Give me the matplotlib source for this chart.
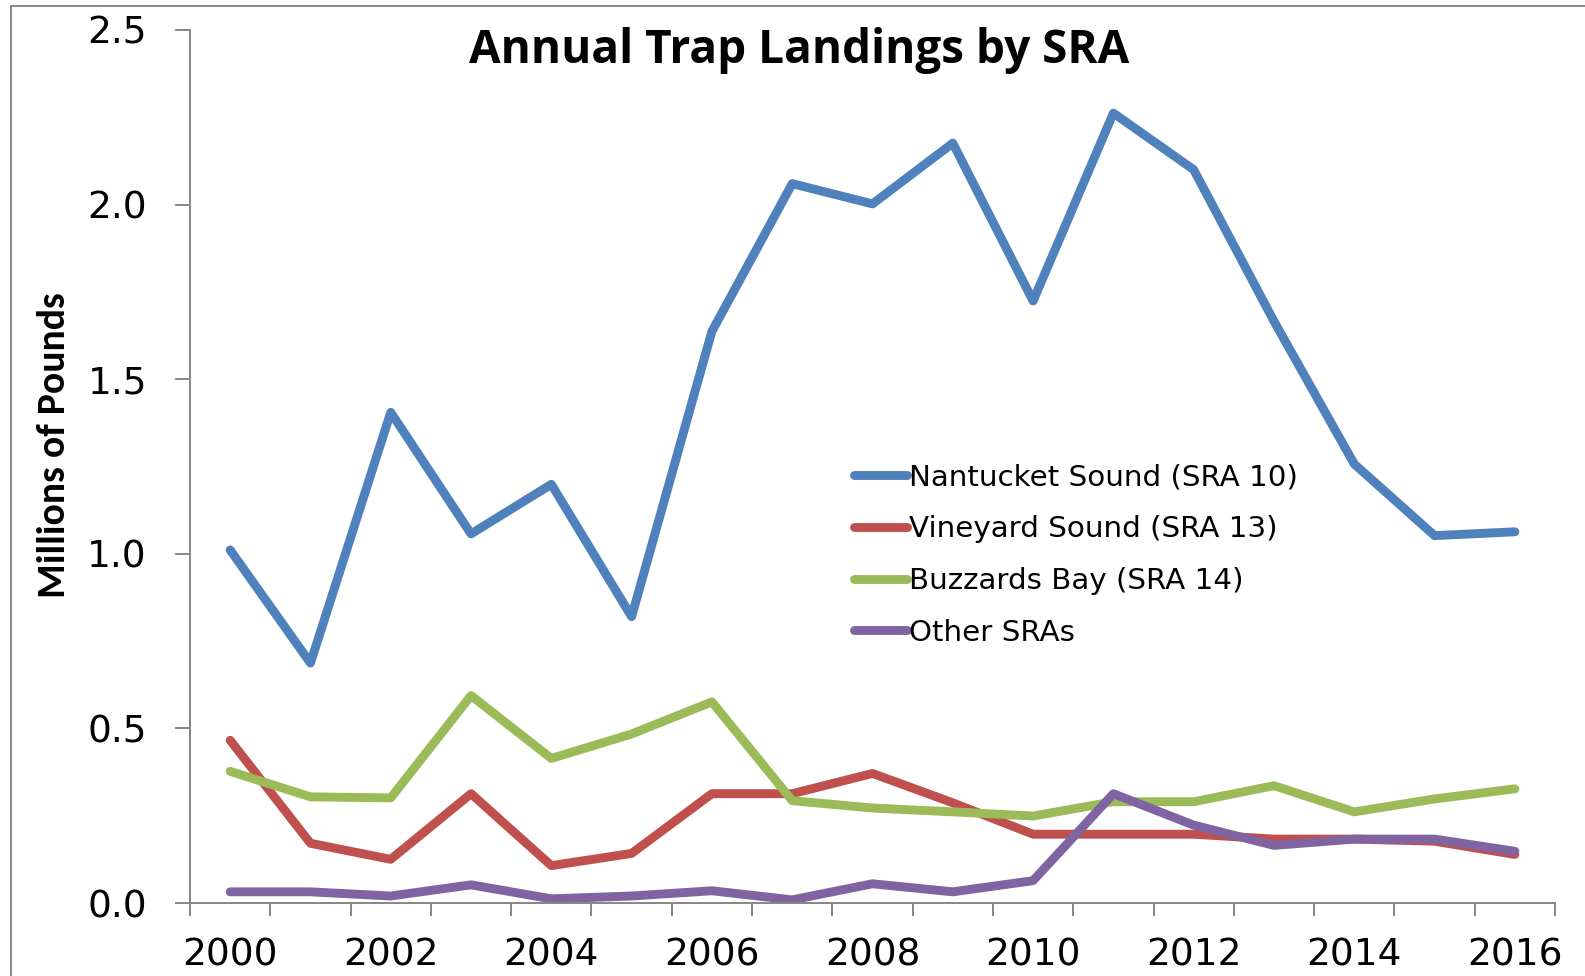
import numpy as np
import matplotlib.pyplot as plt
from matplotlib import font_manager
from matplotlib.patches import Rectangle

years = list(range(2000, 2017))
nantucket = [1.011, 0.687, 1.405, 1.057, 1.199, 0.820, 1.637, 2.060, 2.002, 2.176,
             1.724, 2.262, 2.100, 1.666, 1.257, 1.052, 1.063]
vineyard = [0.466, 0.171, 0.125, 0.313, 0.107, 0.142, 0.313, 0.313, 0.371, 0.287,
            0.197, 0.197, 0.197, 0.183, 0.183, 0.177, 0.139]
buzzards = [0.377, 0.304, 0.301, 0.594, 0.414, 0.484, 0.576, 0.293, 0.272, 0.261,
            0.249, 0.290, 0.290, 0.336, 0.261, 0.298, 0.327]
other = [0.032, 0.032, 0.020, 0.052, 0.012, 0.020, 0.035, 0.009, 0.055, 0.032,
         0.064, 0.313, 0.223, 0.165, 0.183, 0.183, 0.148]

series = [
    ("Nantucket Sound (SRA 10)", nantucket, "#4F81BD"),
    ("Vineyard Sound (SRA 13)", vineyard, "#C0504D"),
    ("Buzzards Bay (SRA 14)", buzzards, "#9BBB59"),
    ("Other SRAs", other, "#8064A2"),
]

GRAY = "#868686"

# the y label is set in a narrow bold face (Calibri-like)
installed = {f.name for f in font_manager.fontManager.ttflist}
narrow = "Open Sans"
for cand in ["Carlito", "Archivo Narrow", "Asap Condensed", "Open Sans"]:
    if cand in installed:
        narrow = cand
        break

fig = plt.figure(figsize=(15.85, 9.76), dpi=100)
ax = fig.add_axes([190 / 1585, 1 - 903 / 976, (1555 - 190) / 1585, (903 - 30) / 976])

x = np.arange(len(years))
for name, vals, col in series:
    ax.plot(x, vals, color=col, lw=6.4, solid_capstyle="round",
            solid_joinstyle="round", label=name)

ax.set_xlim(-0.5, len(years) - 0.5)
ax.set_ylim(0, 2.5)

# category axis: labels every other year, tick marks between categories
ax.set_xticks(x[::2])
ax.set_xticklabels([str(y) for y in years[::2]])
ax.set_xticks(np.arange(-0.5, len(years), 1.0), minor=True)
ax.tick_params(axis="x", which="major", length=0, pad=25, labelsize=27)
ax.tick_params(axis="x", which="minor", length=9, width=1.4, color=GRAY, direction="out")

ax.set_yticks(np.arange(0, 2.51, 0.5))
ax.set_yticklabels([f"{v:.1f}" for v in np.arange(0, 2.51, 0.5)])
ax.tick_params(axis="y", length=11, width=1.4, color=GRAY, pad=20, labelsize=27)

for side in ["top", "right"]:
    ax.spines[side].set_visible(False)
for side in ["left", "bottom"]:
    ax.spines[side].set_color(GRAY)
    ax.spines[side].set_linewidth(1.4)

fig.text(799 / 1585, 1 - 51 / 976, "Annual Trap Landings by SRA", ha="center", va="center",
         fontsize=33, fontweight="bold", family="Open Sans")
ylab = fig.text(54 / 1585, 1 - 445 / 976, "Millions of Pounds", ha="center", va="center",
                rotation=90, fontsize=24, fontweight="bold", family=narrow)
# scale the label so it spans about the same height as in the original
fig.canvas.draw()
h = ylab.get_window_extent().height
ylab.set_fontsize(24 * 305 / h)

leg = fig.legend(loc="center left", bbox_to_anchor=(854 / 1585, 1 - 555 / 976),
                 frameon=False, fontsize=21.2, handlelength=1.8, handletextpad=0.07,
                 labelspacing=0.81, borderaxespad=0, borderpad=0)

# outer chart frame
fig.patches.append(Rectangle((11 / 1585, -0.1), 1.2, 1 - 6 / 976 + 0.1, transform=fig.transFigure,
                             fill=False, edgecolor=GRAY, lw=1.4))

fig.savefig("out.png", dpi=100)
